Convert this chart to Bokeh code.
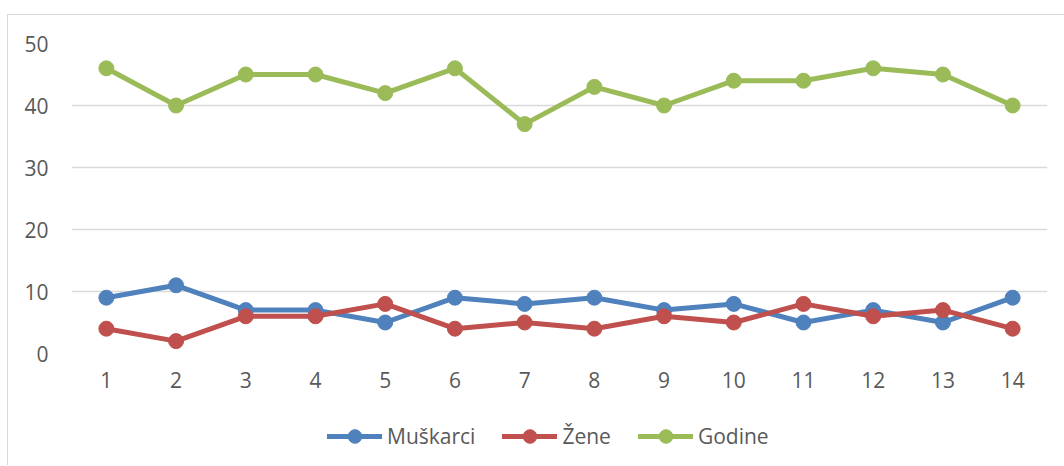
from bokeh.plotting import figure
from bokeh.layouts import column
from bokeh.models import Range1d, FixedTicker, Legend, LegendItem
from bokeh.embed import file_html
from bokeh.resources import INLINE

x = list(range(1, 15))
muskarci = [9, 11, 7, 7, 5, 9, 8, 9, 7, 8, 5, 7, 5, 9]
zene = [4, 2, 6, 6, 8, 4, 5, 4, 6, 5, 8, 6, 7, 4]
godine = [46, 40, 45, 45, 42, 46, 37, 43, 40, 44, 44, 46, 45, 40]
y_ticks = [0, 10, 20, 30, 40, 50]

series = [("Muškarci", muskarci, "#4F81BD"),
          ("Žene", zene, "#C0504D"),
          ("Godine", godine, "#9BBB59")]

FONT = "Open Sans"
GRAY = "#595959"

# main chart
p = figure(width=1056, height=400, output_backend="svg", toolbar_location=None,
           x_range=Range1d(0.5, 14.5), y_range=Range1d(0, 50),
           min_border_left=63, min_border_right=17, min_border_top=28, min_border_bottom=62)
p.outline_line_color = None
p.background_fill_color = "white"
p.border_fill_color = "white"

for ax in (p.xaxis[0], p.yaxis[0]):
    ax.axis_line_color = None
    ax.major_tick_line_color = None
    ax.minor_tick_line_color = None
    ax.major_tick_out = 0
    ax.major_tick_in = 0
    ax.minor_tick_out = 0
    ax.major_label_text_font = FONT
    ax.major_label_text_font_size = "21px"
    ax.major_label_text_color = GRAY

p.xaxis.ticker = FixedTicker(ticks=x)
p.yaxis.ticker = FixedTicker(ticks=y_ticks)
p.xaxis.major_label_standoff = 18
p.yaxis.major_label_standoff = 23

p.xgrid.grid_line_color = None
p.ygrid.grid_line_color = "#d9d9d9"
p.ygrid.grid_line_width = 1.3

for name, vals, col in series:
    p.line(x, vals, line_color=col, line_width=5, line_join="round", line_cap="round")
    p.scatter(x, vals, size=15, fill_color=col, line_color=col)

# legend strip (the same series, drawn out of view, only to feed the legend)
p2 = figure(width=1056, height=50, output_backend="svg", toolbar_location=None,
            x_range=Range1d(0.5, 14.5), y_range=Range1d(1000, 1001),
            x_axis_type=None, y_axis_type=None,
            min_border_left=0, min_border_right=0, min_border_top=0, min_border_bottom=0)
p2.outline_line_color = None
p2.grid.visible = False
p2.background_fill_color = "white"
p2.border_fill_color = "white"

items = []
for name, vals, col in series:
    l = p2.line(x, vals, line_color=col, line_width=5, line_cap="round")
    s = p2.scatter(x, vals, size=15, fill_color=col, line_color=col)
    items.append(LegendItem(label=name, renderers=[l, s]))

legend = Legend(items=items, orientation="horizontal", location=(256, 12),
                label_text_font=FONT, label_text_font_size="21px", label_text_color=GRAY,
                glyph_width=55, glyph_height=34, label_height=34, label_standoff=5, spacing=27,
                padding=0, margin=0, background_fill_alpha=0, border_line_alpha=0)
p2.add_layout(legend, "center")

layout = column(p, p2, spacing=0,
                styles={"margin-left": "7px", "margin-top": "14px",
                        "border-left": "1px solid #d9d9d9", "border-top": "1px solid #d9d9d9"})

open("out.html", "w").write(file_html(layout, INLINE))
